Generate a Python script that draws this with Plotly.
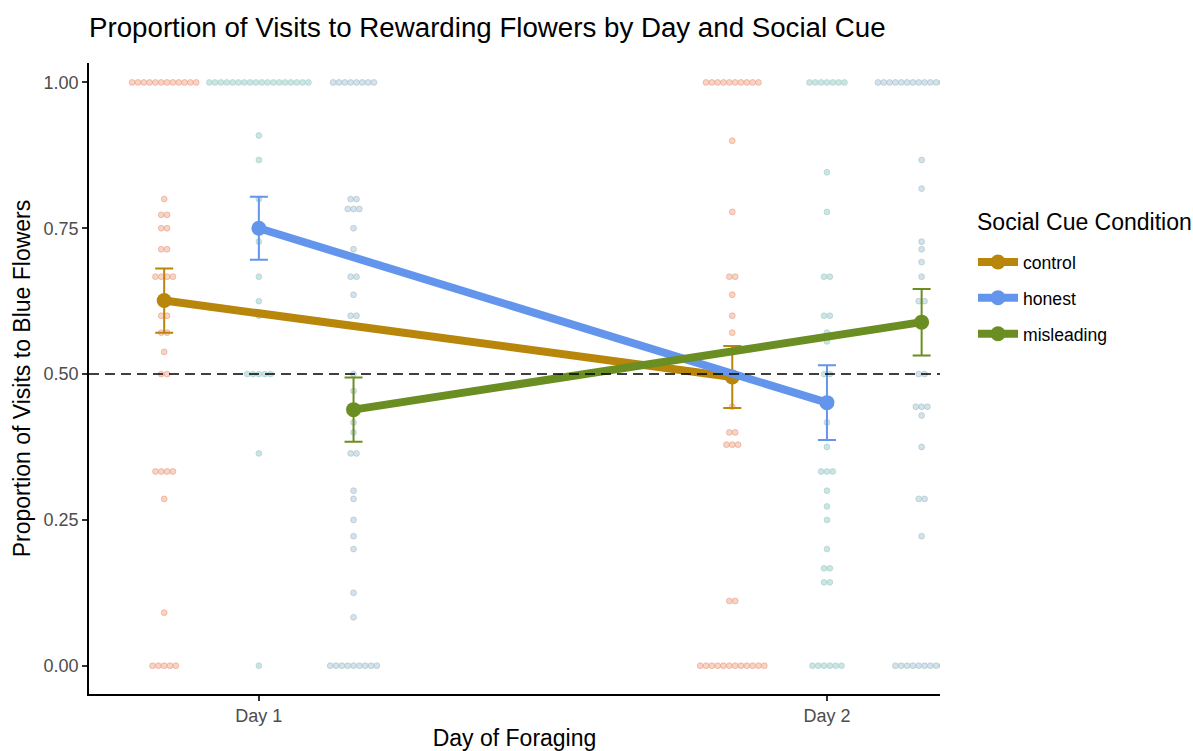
import plotly.graph_objects as go

# Conditions and day labels
conditions = ["control", "honest", "misleading"]
days = [1, 2]
day_labels = ["Day 1", "Day 2"]

# Individual bee proportions: (proportion, number of bees) per condition and day
control_day1 = [(1.000, 12), (0.800, 1), (0.773, 2), (0.750, 2), (0.714, 2), (0.667, 4),
                (0.600, 2), (0.571, 2), (0.538, 1), (0.500, 2), (0.333, 4), (0.286, 1),
                (0.091, 1), (0.000, 5)]
honest_day1 = [(1.000, 18), (0.909, 1), (0.867, 1), (0.800, 1), (0.727, 1), (0.667, 1),
               (0.625, 1), (0.600, 1), (0.500, 5), (0.364, 1), (0.000, 1)]
misleading_day1 = [(1.000, 8), (0.800, 2), (0.783, 3), (0.750, 1), (0.714, 1), (0.667, 2),
                   (0.636, 1), (0.600, 2), (0.500, 1), (0.471, 1), (0.417, 1), (0.400, 1),
                   (0.364, 2), (0.300, 1), (0.286, 1), (0.250, 1), (0.222, 1), (0.200, 1),
                   (0.125, 1), (0.083, 1), (0.000, 9)]
control_day2 = [(1.000, 10), (0.900, 1), (0.778, 1), (0.667, 2), (0.636, 1), (0.600, 1),
                (0.571, 1), (0.500, 1), (0.444, 1), (0.400, 2), (0.379, 3), (0.111, 2),
                (0.000, 12)]
honest_day2 = [(1.000, 7), (0.846, 1), (0.778, 1), (0.667, 2), (0.600, 2), (0.571, 1),
               (0.556, 1), (0.500, 2), (0.417, 1), (0.375, 1), (0.333, 3), (0.300, 1),
               (0.273, 1), (0.250, 1), (0.200, 1), (0.167, 2), (0.143, 2), (0.000, 6)]
misleading_day2 = [(1.000, 16), (0.867, 1), (0.818, 1), (0.727, 1), (0.714, 1), (0.692, 1),
                   (0.667, 1), (0.625, 2), (0.500, 2), (0.444, 3), (0.429, 1), (0.375, 1),
                   (0.286, 2), (0.222, 1), (0.000, 10)]

# Group means and standard errors (Day 1, Day 2)
mean_control = [0.626, 0.495]
mean_honest = [0.750, 0.451]
mean_misleading = [0.439, 0.589]
se_control = [0.055, 0.053]
se_honest = [0.054, 0.064]
se_misleading = [0.055, 0.057]

raw = {
    "control": [control_day1, control_day2],
    "honest": [honest_day1, honest_day2],
    "misleading": [misleading_day1, misleading_day2],
}
means = {"control": mean_control, "honest": mean_honest, "misleading": mean_misleading}
ses = {"control": se_control, "honest": se_honest, "misleading": se_misleading}

line_colors = {"control": "#B8860B", "honest": "#6495ED", "misleading": "#6B8E23"}
dot_fill = {"control": "rgba(240,170,140,0.5)",
            "honest": "rgba(150,210,180,0.5)",
            "misleading": "rgba(170,195,230,0.5)"}
dot_edge = {"control": "rgba(232,150,120,0.55)",
            "honest": "rgba(160,195,225,0.55)",
            "misleading": "rgba(160,190,175,0.55)"}

dodge = {"control": -1 / 6, "honest": 0.0, "misleading": 1 / 6}
dot_step = 0.01026  # horizontal spacing between stacked dots, in x units

FONT = "Liberation Sans, Arial, sans-serif"

fig = go.Figure()

# Centred horizontal dot stacks for each condition
for cond in conditions:
    xs, ys = [], []
    for d, groups in zip(days, raw[cond]):
        cx = d + dodge[cond]
        for val, n in groups:
            for i in range(n):
                xs.append(cx + (i - (n - 1) / 2) * dot_step)
                ys.append(val)
    fig.add_trace(go.Scatter(
        x=xs, y=ys, mode="markers", showlegend=False, hoverinfo="skip",
        marker=dict(size=5.8, color=dot_fill[cond],
                    line=dict(color=dot_edge[cond], width=1)),
    ))

# Means with error bars joined across days
for cond in conditions:
    fig.add_trace(go.Scatter(
        x=[d + dodge[cond] for d in days], y=means[cond],
        mode="lines+markers", name=cond, legendgroup=cond,
        line=dict(color=line_colors[cond], width=8),
        marker=dict(size=15, color=line_colors[cond]),
        error_y=dict(type="data", array=ses[cond], color=line_colors[cond],
                     thickness=2, width=9),
    ))

# Chance level reference
fig.add_shape(type="line", xref="paper", x0=0, x1=1, yref="y", y0=0.5, y1=0.5,
              line=dict(color="black", width=1.6, dash="10px,6px"))

# Legend heading
fig.add_annotation(text="Social Cue Condition", xref="paper", yref="paper",
                   x=(975 - 89) / 851, y=(694 - 222) / 631, xanchor="left",
                   yanchor="middle", showarrow=False,
                   font=dict(family=FONT, size=23, color="black"))

axis_common = dict(showline=True, linecolor="black", linewidth=1.7, showgrid=False,
                   zeroline=False, ticks="outside", ticklen=5, tickwidth=1.5,
                   tickcolor="#333333", automargin=False,
                   tickfont=dict(family=FONT, size=18, color="#4D4D4D"))

fig.update_layout(
    width=1193, height=751,
    margin=dict(l=89, r=253, t=63, b=57),
    plot_bgcolor="white", paper_bgcolor="white",
    font=dict(family=FONT, color="black"),
    title=dict(text="Proportion of Visits to Rewarding Flowers by Day and Social Cue",
               x=0, xref="paper", xanchor="left", y=1 - 27.5 / 751, yref="container",
               yanchor="middle", font=dict(size=27.7, color="black")),
    xaxis=dict(range=[0.701, 2.199], tickvals=days, ticktext=day_labels,
               title=dict(text="Day of Foraging", font=dict(size=23), standoff=12),
               **axis_common),
    yaxis=dict(range=[-0.0485, 1.0333], tickvals=[0, 0.25, 0.5, 0.75, 1.0],
               ticktext=["0.00", "0.25", "0.50", "0.75", "1.00"],
               title=dict(text="Proportion of Visits to Blue Flowers", font=dict(size=23),
                          standoff=6),
               **axis_common),
    legend=dict(font=dict(size=17.6), x=(973 - 89) / 851, xanchor="left",
                y=(694 - 244) / 631, yanchor="top",
                itemwidth=40, tracegroupgap=10, bgcolor="rgba(0,0,0,0)"),
)

fig.write_html("out.html")
